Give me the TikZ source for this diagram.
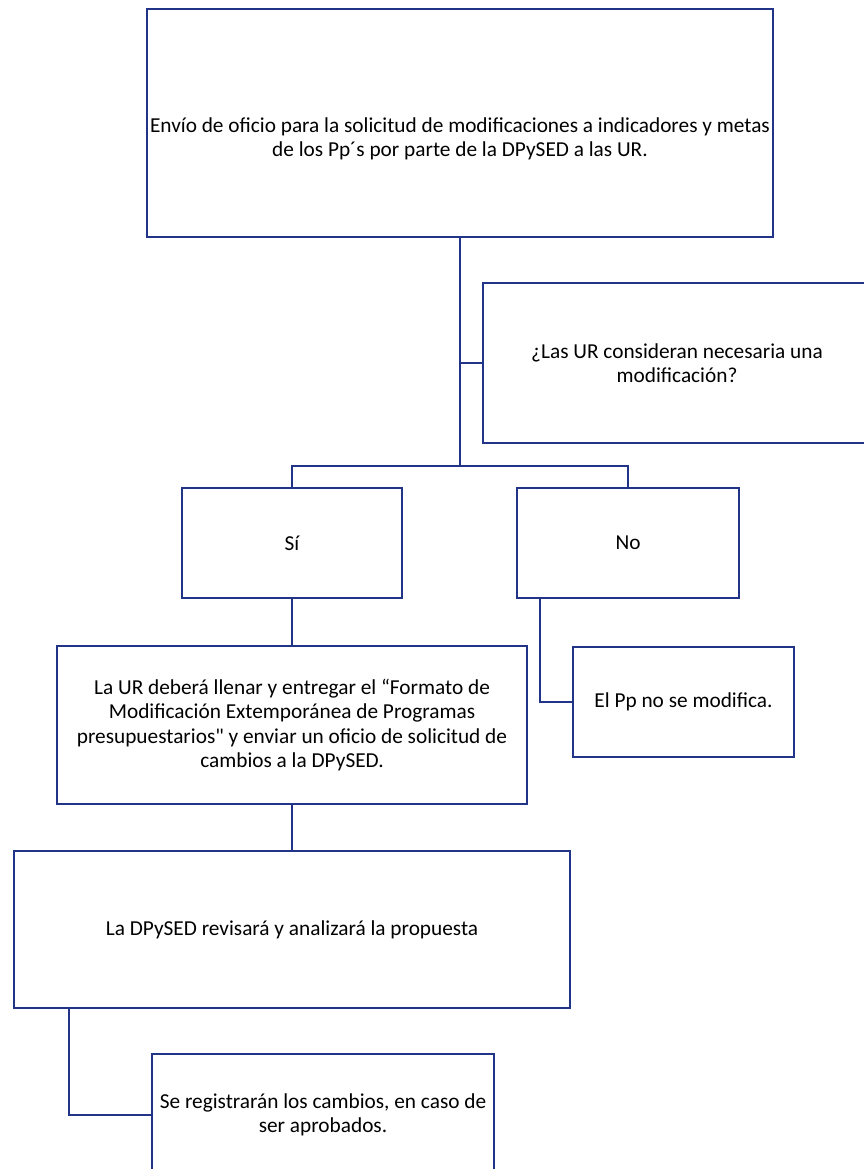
\documentclass[tikz,border=0pt]{standalone}
\usepackage{fontspec}
\setmainfont{Carlito}
\newfontfamily\nomapfont{Carlito}[Ligatures=TeXOff]
\definecolor{navy}{RGB}{33,52,135}
\newcommand{\boxfont}{\fontsize{21.3}{24.5}\selectfont}
\newcommand{\straightquote}{{\nomapfont"}}
\tikzset{
  box/.style={draw=navy, line width=2.8pt, fill=white, align=center, inner sep=0pt,
    font=\boxfont, text=black},
  conn/.style={draw=navy, line width=1.9pt}
}
\begin{document}
\begin{tikzpicture}[x=1pt,y=-1pt]
\useasboundingbox[fill=white] (0,0) rectangle (864,1169);
% boxes
\node[box, minimum width=626pt, minimum height=228pt,
  label={[font=\boxfont, align=center, yshift=-16pt]center:{Envío de oficio para la solicitud de modificaciones a indicadores y metas\\de los Pp´s por parte de la DPySED a las UR.}}]
  (top) at (460,123) {};
\node[box, minimum width=388pt, minimum height=160pt] (q) at (677,363)
  {¿Las UR consideran necesaria una\\modificación?};
\node[box, minimum width=220pt, minimum height=110pt] (si) at (292,543) {Sí};
\node[box, minimum width=222pt, minimum height=110pt] (no) at (628,543) {No};
\node[box, minimum width=470pt, minimum height=158pt] (form) at (292,725)
  {La UR deberá llenar y entregar el “Formato de\\Modificación Extemporánea de Programas\\presupuestarios\straightquote{} y enviar un oficio de solicitud de\\cambios a la DPySED.};
\node[box, minimum width=221pt, minimum height=110pt] (pp) at (683.5,702) {El Pp no se modifica.};
\node[box, minimum width=556pt, minimum height=157pt] (rev) at (292,929.5)
  {La DPySED revisará y analizará la propuesta};
\node[box, minimum width=342pt, minimum height=122pt] (reg) at (323,1115)
  {Se registrarán los cambios, en caso de\\ser aprobados.};
% connector coordinates
\coordinate (br) at (460,466);
\coordinate (bl) at (292,466);
\coordinate (bn) at (628,466);
\coordinate (nostart) at (540,598);
\coordinate (revstart) at (69,1008);
% connectors
\draw[conn] (top.south) -- (br);
\draw[conn] (top.south |- q.west) -- (q.west);
\draw[conn] (si.north) -- (bl) -- (bn) -- (no.north);
\draw[conn] (si.south) -- (form.north);
\draw[conn] (nostart) |- (pp.west);
\draw[conn] (form.south) -- (rev.north);
\draw[conn] (revstart) |- (reg.west);
\end{tikzpicture}
\end{document}
